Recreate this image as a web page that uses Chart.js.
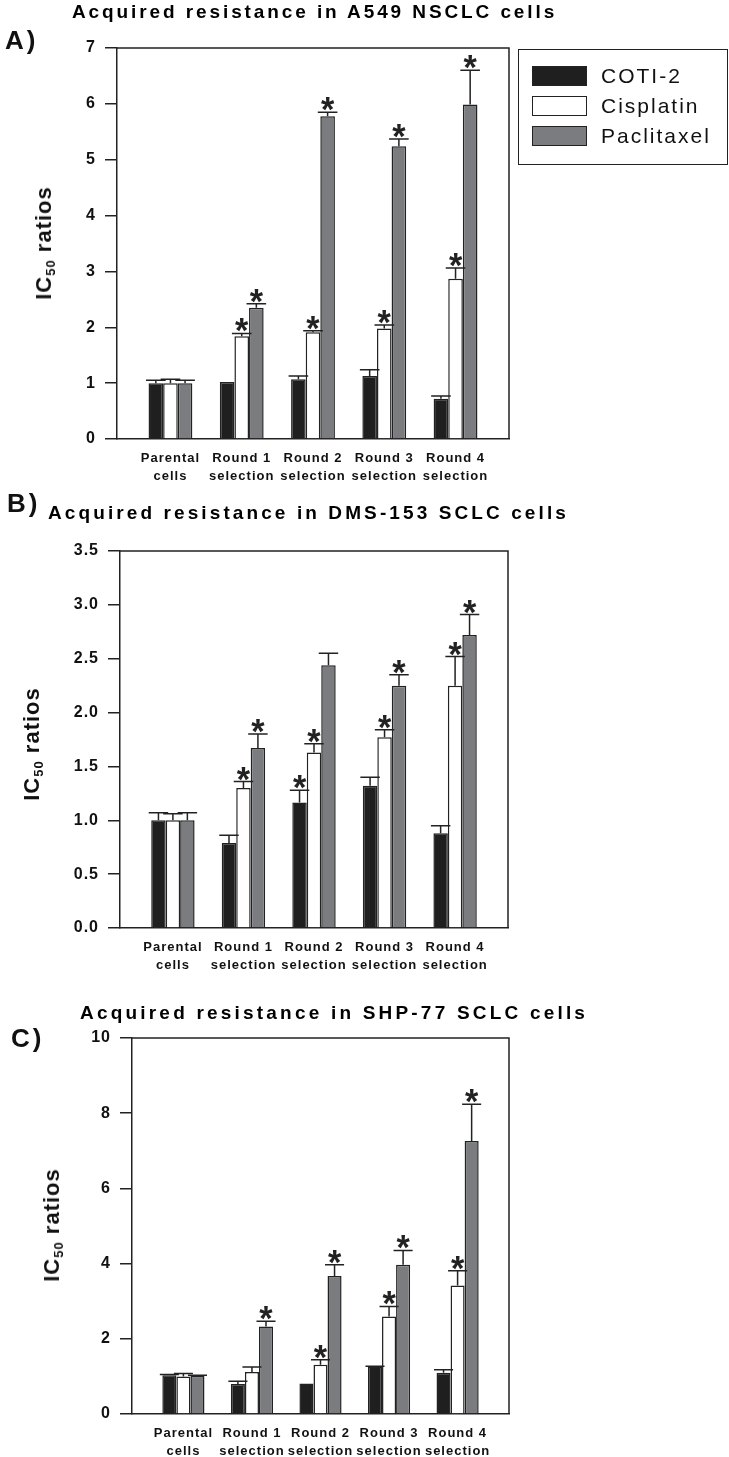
<!DOCTYPE html>
<html>
<head>
<meta charset="utf-8">
<script src="https://cdn.jsdelivr.net/npm/chart.js@4.4.1/dist/chart.umd.min.js"></script>
<style>
  body { margin: 0; background: #fff; }
  #page { position: relative; width: 729px; height: 1457px; overflow: hidden; font-family: "Liberation Sans", Arial, sans-serif; color: #111; }
  canvas { position: absolute; left: 0; }
  .lbl { position: absolute; font-weight: bold; font-size: 26px; line-height: 1; letter-spacing: 3px; }
  .ttl { position: absolute; font-weight: bold; font-size: 19px; line-height: 1; white-space: nowrap; color: #000; }
  .ytl { position: absolute; font-weight: bold; font-size: 22px; line-height: 1; letter-spacing: 1px; white-space: nowrap; transform: translate(-50%, -50%) rotate(-90deg); }
  .ytl sub { font-size: 13px; vertical-align: -4px; line-height: 0; }
  #legend { position: absolute; left: 518px; top: 49px; width: 210px; height: 116px; box-sizing: border-box; border: 1.5px solid #222; }
  #legend .sw { position: absolute; left: 13px; width: 55px; height: 20px; box-sizing: border-box; border: 1.5px solid #222; }
  #legend .tx { position: absolute; left: 82px; font-size: 21px; line-height: 1; letter-spacing: 2px; }
</style>
</head>
<body>
<div id="page">
  <canvas id="chartA" width="729" height="490" style="top:0px"></canvas>
  <canvas id="chartB" width="729" height="490" style="top:490px"></canvas>
  <canvas id="chartC" width="729" height="477" style="top:980px"></canvas>

  <div class="lbl" style="left:5px;top:27px">A)</div>
  <div class="ttl" style="left:72px;top:2px;letter-spacing:2.9px">Acquired resistance in A549 NSCLC cells</div>
  <div class="ytl" style="left:44px;top:243px">IC<sub>50</sub> ratios</div>

  <div class="lbl" style="left:7px;top:490px">B)</div>
  <div class="ttl" style="left:48px;top:503px;letter-spacing:3.1px">Acquired resistance in DMS-153 SCLC cells</div>
  <div class="ytl" style="left:32px;top:744px">IC<sub>50</sub> ratios</div>

  <div class="lbl" style="left:11px;top:1025px">C)</div>
  <div class="ttl" style="left:80px;top:1003px;letter-spacing:3.2px">Acquired resistance in SHP-77 SCLC cells</div>
  <div class="ytl" style="left:52px;top:1225px">IC<sub>50</sub> ratios</div>

  <div id="legend"></div>
</div>
<script>
var categories = [['Parental', 'cells'], ['Round 1', 'selection'], ['Round 2', 'selection'], ['Round 3', 'selection'], ['Round 4', 'selection']];
var seriesNames = ['COTI-2', 'Cisplatin', 'Paclitaxel'];
var seriesColors = ['#1f1f1f', '#ffffff', '#7b7c80'];

// A) A549 NSCLC
var cotiA = [1.00, 1.02, 1.07, 1.13, 0.72];
var cotiErrA = [0.05, 0, 0.06, 0.11, 0.05];
var cotiSigA = [0, 0, 0, 0, 0];
var cisA = [1.00, 1.84, 1.91, 1.98, 2.87];
var cisErrA = [0.07, 0.05, 0.03, 0.06, 0.19];
var cisSigA = [0, 1, 1, 1, 1];
var pacA = [1.00, 2.35, 5.78, 5.24, 5.99];
var pacErrA = [0.05, 0.07, 0.07, 0.13, 0.61];
var pacSigA = [0, 1, 1, 1, 1];

// B) DMS-153 SCLC
var cotiB = [1.00, 0.79, 1.165, 1.32, 0.88];
var cotiErrB = [0.07, 0.07, 0.115, 0.08, 0.07];
var cotiSigB = [0, 0, 1, 0, 0];
var cisB = [1.00, 1.30, 1.63, 1.77, 2.25];
var cisErrB = [0.06, 0.06, 0.08, 0.07, 0.27];
var cisSigB = [0, 1, 1, 1, 1];
var pacB = [1.00, 1.67, 2.44, 2.25, 2.72];
var pacErrB = [0.07, 0.13, 0.11, 0.10, 0.19];
var pacSigB = [0, 1, 0, 1, 1];

// C) SHP-77 SCLC
var cotiC = [1.03, 0.80, 0.81, 1.26, 1.10];
var cotiErrC = [0.02, 0.07, 0, 0.01, 0.08];
var cotiSigC = [0, 0, 0, 0, 0];
var cisC = [1.00, 1.12, 1.31, 2.59, 3.42];
var cisErrC = [0.08, 0.13, 0.13, 0.27, 0.39];
var cisSigC = [0, 0, 1, 1, 1];
var pacC = [1.01, 2.33, 3.67, 3.97, 7.26];
var pacErrC = [0.02, 0.14, 0.30, 0.38, 0.98];
var pacSigC = [0, 1, 1, 1, 1];

Chart.defaults.font.family = '"Liberation Sans", Arial, sans-serif';
Chart.defaults.color = '#111';

var ink = '#222';

function makeDataset(i, values, errs, sigs) {
    return {
        label: seriesNames[i],
        data: values.map(function (v, k) { return { x: k + 1, y: v }; }),
        err: errs,
        sig: sigs,
        backgroundColor: seriesColors[i],
        borderColor: ink,
        borderWidth: 1.5,
        categoryPercentage: 0.615,
        barPercentage: 1
    };
}

// letter spacing for canvas text (ticks)
var spacing = {
    id: 'spacing',
    beforeLayout: function (chart) { chart.ctx.letterSpacing = '1px'; },
    beforeDraw: function (chart) { chart.ctx.letterSpacing = '1px'; }
};

// top and right sides of the plot box
var frame = {
    id: 'frame',
    afterDraw: function (chart) {
        var a = chart.chartArea, ctx = chart.ctx;
        ctx.save();
        ctx.strokeStyle = ink;
        ctx.lineWidth = 1.5;
        ctx.beginPath();
        ctx.moveTo(a.left, a.top);
        ctx.lineTo(a.right, a.top);
        ctx.lineTo(a.right, a.bottom);
        ctx.stroke();
        ctx.restore();
    }
};

// upper error bars and significance asterisks
var errorBars = {
    id: 'errorBars',
    afterDatasetsDraw: function (chart) {
        var ctx = chart.ctx, yScale = chart.scales.y;
        ctx.save();
        ctx.letterSpacing = '0px';
        ctx.font = 'bold 100px "Liberation Sans", Arial, sans-serif';
        var m = ctx.measureText('*');
        var size = 100 * 13 / (m.actualBoundingBoxAscent + m.actualBoundingBoxDescent);
        ctx.font = 'bold ' + size + 'px "Liberation Sans", Arial, sans-serif';
        m = ctx.measureText('*');
        ctx.strokeStyle = ink;
        ctx.fillStyle = ink;
        ctx.lineWidth = 1.5;
        ctx.textAlign = 'center';
        ctx.textBaseline = 'alphabetic';
        chart.data.datasets.forEach(function (ds, d) {
            chart.getDatasetMeta(d).data.forEach(function (bar, i) {
                var top = bar.y;
                if (ds.err[i] > 0) {
                    top = yScale.getPixelForValue(ds.data[i].y + ds.err[i]);
                    var half = bar.width / 2 + 2.5;
                    ctx.beginPath();
                    ctx.moveTo(bar.x, bar.y);
                    ctx.lineTo(bar.x, top);
                    ctx.moveTo(bar.x - half, top);
                    ctx.lineTo(bar.x + half, top);
                    ctx.stroke();
                }
                if (ds.sig[i]) {
                    ctx.fillText('*', bar.x, top - 1 - m.actualBoundingBoxDescent);
                }
            });
        });
        ctx.restore();
    }
};

function makeChart(id, datasets, yMax, yStep, decimals, padTop, padRight, axisWidth, axisHeight) {
    return new Chart(document.getElementById(id), {
        type: 'bar',
        data: { datasets: datasets },
        plugins: [spacing, frame, errorBars],
        options: {
            responsive: false,
            animation: false,
            layout: { padding: { top: padTop, right: padRight, bottom: 0, left: 0 } },
            plugins: { legend: { display: false }, tooltip: { enabled: false } },
            scales: {
                x: {
                    type: 'linear',
                    offset: false,
                    min: 0.25,
                    max: 5.75,
                    afterBuildTicks: function (s) {
                        s.ticks = categories.map(function (c, k) { return { value: k + 1 }; });
                    },
                    afterFit: function (s) { s.height = axisHeight; },
                    grid: { display: false, drawTicks: false },
                    border: { display: true, color: ink, width: 1.5 },
                    ticks: {
                        padding: 10,
                        maxRotation: 0,
                        autoSkip: false,
                        color: '#111',
                        font: { size: 13, weight: 'bold', lineHeight: 1.4 },
                        callback: function (v) { return categories[Math.round(v) - 1]; }
                    }
                },
                y: {
                    min: 0,
                    max: yMax,
                    afterFit: function (s) { s.width = axisWidth; },
                    grid: { display: true, drawOnChartArea: false, tickLength: 12, color: ink, lineWidth: 1.5 },
                    border: { display: true, color: ink, width: 1.5 },
                    ticks: {
                        stepSize: yStep,
                        padding: 9,
                        color: '#111',
                        font: { size: 16, weight: 'bold' },
                        callback: function (v) { return v.toFixed(decimals); }
                    }
                }
            }
        }
    });
}

var chartA = makeChart('chartA', [
    makeDataset(0, cotiA, cotiErrA, cotiSigA),
    makeDataset(1, cisA, cisErrA, cisSigA),
    makeDataset(2, pacA, pacErrA, pacSigA)
], 7, 1, 0, 48, 220, 117, 51);

var chartB = makeChart('chartB', [
    makeDataset(0, cotiB, cotiErrB, cotiSigB),
    makeDataset(1, cisB, cisErrB, cisSigB),
    makeDataset(2, pacB, pacErrB, pacSigB)
], 3.5, 0.5, 1, 61, 221, 120, 52);

var chartC = makeChart('chartC', [
    makeDataset(0, cotiC, cotiErrC, cotiSigC),
    makeDataset(1, cisC, cisErrC, cisSigC),
    makeDataset(2, pacC, pacErrC, pacSigC)
], 10, 2, 0, 58, 220, 132, 43);

// legend built from the first chart's datasets
var legend = document.getElementById('legend');
chartA.data.datasets.forEach(function (ds, i) {
    var sw = document.createElement('div');
    sw.className = 'sw';
    sw.style.top = (16 + i * 30) + 'px';
    sw.style.background = ds.backgroundColor;
    legend.appendChild(sw);
    var tx = document.createElement('div');
    tx.className = 'tx';
    tx.style.top = (15 + i * 30) + 'px';
    tx.textContent = ds.label;
    legend.appendChild(tx);
});
</script>
</body>
</html>
